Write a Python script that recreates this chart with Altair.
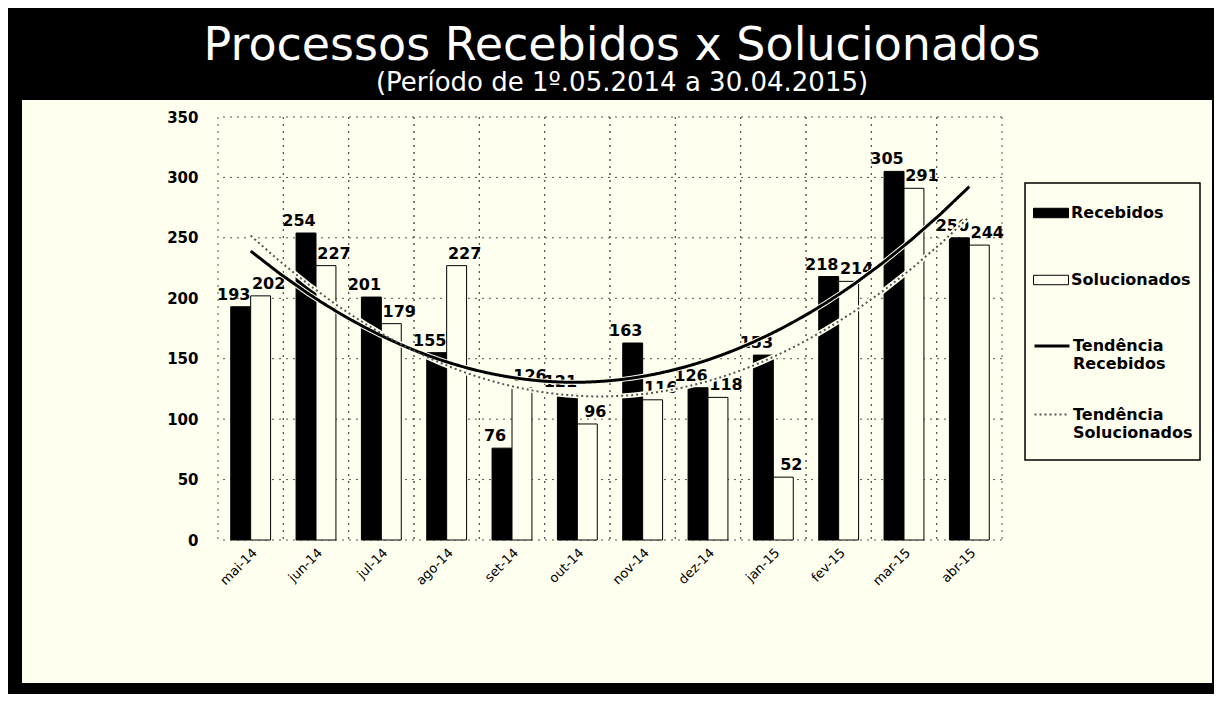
import altair as alt
import pandas as pd

# ---------------- data ----------------
meses = ["mai-14", "jun-14", "jul-14", "ago-14", "set-14", "out-14",
         "nov-14", "dez-14", "jan-15", "fev-15", "mar-15", "abr-15"]
recebidos = [193, 254, 201, 155, 76, 121, 163, 126, 153, 218, 305, 250]
solucionados = [202, 227, 179, 227, 126, 96, 116, 118, 52, 214, 291, 244]
series = ["Recebidos", "Solucionados"]
tendencias = ["Tendência Recebidos", "Tendência Solucionados"]
y_ticks = [0, 50, 100, 150, 200, 250, 300, 350]

rows = []
for i, m in enumerate(meses):
    rows.append({"mes": m, "idx": i, "serie": series[0], "valor": recebidos[i]})
    rows.append({"mes": m, "idx": i, "serie": series[1], "valor": solucionados[i]})
df = pd.DataFrame(rows)
df_meses = pd.DataFrame({"mes": meses, "idx": list(range(len(meses)))})
df_ticks = pd.DataFrame({"v": y_ticks})
one = pd.DataFrame({"a": [0]})

# ---------------- style ----------------
W, H = 784, 423
FONT = "DejaVu Sans"
CREAM = "#FFFFF0"
GRID = "#555555"

yscale = alt.Scale(domain=[0, 350], nice=False, zero=True)
xband = alt.Scale(domain=meses, paddingInner=0.39, paddingOuter=0.195)
xlin = alt.Scale(domain=[-0.5, len(meses) - 0.5], nice=False, zero=False)
offscale = alt.Scale(domain=series, paddingInner=0, paddingOuter=0)

yaxis = alt.Axis(values=y_ticks, title=None, grid=False, domain=False, ticks=False,
                 labelFont=FONT, labelFontSize=15, labelFontWeight="bold",
                 labelColor="black", labelPadding=20, zindex=1)
xaxis = alt.Axis(title=None, labelAngle=-45, labelFont=FONT, labelFontSize=13,
                 labelColor="black", ticks=False, domain=False, grid=False,
                 labelPadding=6, zindex=1)

leg1 = alt.Legend(title=None, orient="none", legendX=815, legendY=78,
                  symbolType="M-1,-0.27H1V0.27H-1Z", symbolSize=1225,
                  symbolStrokeColor="black", symbolStrokeWidth=1,
                  labelFont=FONT, labelFontSize=16, labelFontWeight="bold",
                  labelColor="black", rowPadding=41, labelOffset=2,
                  padding=0, zindex=1)
leg2 = alt.Legend(title=None, orient="none", legendX=815, legendY=210,
                  symbolType="stroke", symbolSize=1225,
                  labelExpr="split(datum.label, ' ')",
                  labelFont=FONT, labelFontSize=16, labelFontWeight="bold",
                  labelColor="black", rowPadding=24, labelOffset=2,
                  padding=0, zindex=1)

# ---------------- layers ----------------
bg = alt.Chart(one).mark_rect(fill=CREAM).encode(
    x=alt.value(-196), x2=alt.value(994), y=alt.value(-17), y2=alt.value(566))

hgrid = alt.Chart(df_ticks).mark_rule(color=GRID, strokeDash=[2, 5], strokeWidth=1).encode(
    y=alt.Y("v:Q", scale=yscale, axis=yaxis))

vgrid_a = alt.Chart(df_meses).transform_calculate(b="datum.idx - 0.5").mark_rule(
    color=GRID, strokeDash=[2, 5], strokeWidth=1).encode(
    x=alt.X("b:Q", scale=xlin, axis=None))
vgrid_b = alt.Chart(df_meses).transform_calculate(b="datum.idx + 0.5").mark_rule(
    color=GRID, strokeDash=[2, 5], strokeWidth=1).encode(
    x=alt.X("b:Q", scale=xlin, axis=None))

box = alt.Chart(one).mark_rect(fill=CREAM, stroke="black", strokeWidth=1.5).encode(
    x=alt.value(807), x2=alt.value(982), y=alt.value(66), y2=alt.value(343))

bars = alt.Chart(df).mark_bar(stroke="black", strokeWidth=1).encode(
    x=alt.X("mes:N", scale=xband, sort=meses, axis=xaxis),
    xOffset=alt.XOffset("serie:N", scale=offscale, sort=series),
    y=alt.Y("valor:Q", scale=yscale, axis=yaxis),
    fill=alt.Fill("serie:N", scale=alt.Scale(domain=series, range=["black", CREAM]), legend=leg1),
)


def label_layer(serie, dx):
    return alt.Chart(df).transform_filter(alt.datum.serie == serie).mark_text(
        baseline="bottom", dy=-4, dx=dx, font=FONT, fontSize=16,
        fontWeight="bold", color="black").encode(
        x=alt.X("mes:N", scale=xband, sort=meses, axis=None),
        xOffset=alt.XOffset("serie:N", scale=offscale, sort=series),
        y=alt.Y("valor:Q", scale=yscale, axis=yaxis),
        text=alt.Text("valor:Q"),
    )


labels_rec = label_layer(series[0], -7)
labels_sol = label_layer(series[1], 8)

trend_base = alt.Chart(df).transform_regression(
    "idx", "valor", groupby=["serie"], method="poly", order=2
).transform_calculate(tend="'Tendência ' + datum.serie")

halo = trend_base.mark_line(color=CREAM, strokeWidth=5).encode(
    x=alt.X("idx:Q", scale=xlin, axis=None),
    y=alt.Y("valor:Q", scale=yscale, axis=yaxis),
    detail="serie:N",
)

trend = trend_base.mark_line().encode(
    x=alt.X("idx:Q", scale=xlin, axis=None),
    y=alt.Y("valor:Q", scale=yscale, axis=yaxis),
    stroke=alt.Stroke("tend:N", scale=alt.Scale(domain=tendencias, range=["black", "#555555"]), legend=leg2),
    strokeDash=alt.StrokeDash("tend:N", scale=alt.Scale(domain=tendencias, range=[[1, 0], [2, 3]]), legend=leg2),
    strokeWidth=alt.StrokeWidth("tend:N", scale=alt.Scale(domain=tendencias, range=[3, 2]), legend=leg2),
)

chart = alt.layer(bg, hgrid, vgrid_a, vgrid_b, box, bars, labels_rec, labels_sol, halo, trend).resolve_scale(
    x="independent"
).properties(
    width=W, height=H,
    background="black",
    autosize=alt.AutoSizeParams(type="none"),
    padding={"left": 210, "top": 109, "right": 212, "bottom": 154},
    title=alt.TitleParams(
        text="Processos Recebidos x Solucionados",
        subtitle="(Período de 1º.05.2014  a  30.04.2015)",
        color="white", subtitleColor="white",
        font=FONT, subtitleFont=FONT,
        fontSize=46, subtitleFontSize=26, fontWeight="normal",
        anchor="middle", offset=3, subtitlePadding=0, dx=12,
    ),
).configure_view(strokeWidth=0)

chart.save("out.html", embed_options={"renderer": "svg", "actions": False})
